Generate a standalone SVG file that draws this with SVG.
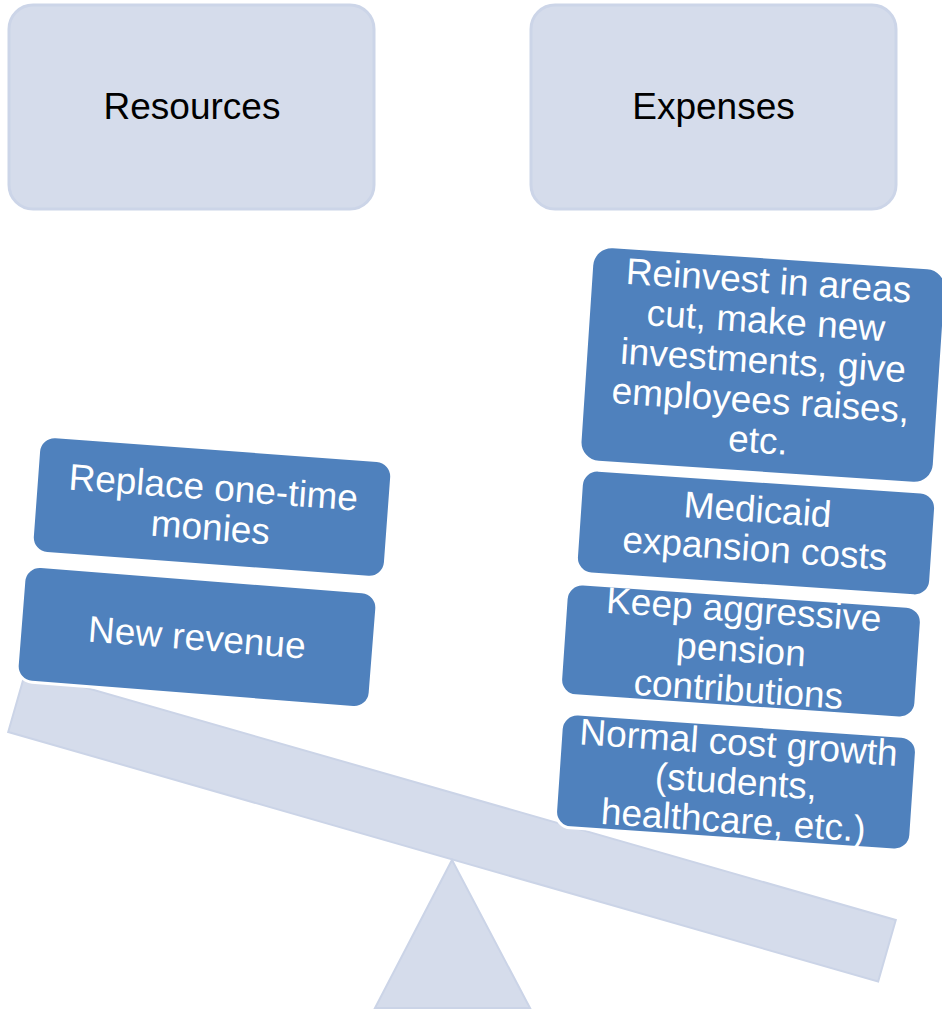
<svg xmlns="http://www.w3.org/2000/svg" width="942" height="1010" viewBox="0 0 942 1010">
<style>
.hdr{fill:#D5DCEB;stroke:#CCD5E8;stroke-width:3}
.hdr-t{font-family:"Liberation Sans",Arial,sans-serif;font-size:37px;fill:#000;text-anchor:middle}
.beam{fill:#D5DCEB;stroke:#CBD4E7;stroke-width:2}
.box{fill:#4F81BD;stroke:#FFFFFF;stroke-width:3}
.box-t{font-family:"Liberation Sans",Arial,sans-serif;font-size:37px;fill:#FFFFFF;text-anchor:middle}
</style>
<rect width="942" height="1010" fill="#FFFFFF"/>
<g id="resources">
<rect class="hdr" x="9" y="5" width="365" height="204" rx="24"/>
<text class="hdr-t" x="192" y="119">Resources</text>
</g>
<g id="expenses">
<rect class="hdr" x="531" y="5" width="365" height="204" rx="24"/>
<text class="hdr-t" x="713.5" y="119">Expenses</text>
</g>
<g id="scale">
<rect class="beam" x="-452.5" y="-32" width="905" height="64" transform="translate(452,826) rotate(16)"/>
<polygon class="beam" points="452,860 530,1008 375,1008"/>
</g>
<g id="replace" transform="translate(212,507) rotate(4.2)">
<rect class="box" x="-177" y="-58.5" width="354" height="117" rx="16"/>
<text class="box-t"><tspan x="0" y="-7">Replace one-time</tspan><tspan x="0" y="33">monies</tspan></text>
</g>
<g id="newrevenue" transform="translate(197,637) rotate(4.5)">
<rect class="box" x="-177" y="-58" width="354" height="116" rx="16"/>
<text class="box-t" x="0" y="13">New revenue</text>
</g>
<g id="reinvest" transform="translate(763,365) rotate(3.8)">
<rect class="box" x="-177.5" y="-108" width="355" height="216" rx="20"/>
<text class="box-t"><tspan x="0" y="-72">Reinvest in areas</tspan><tspan x="0" y="-32">cut, make new</tspan><tspan x="0" y="8">investments, give</tspan><tspan x="0" y="48">employees raises,</tspan><tspan x="0" y="88">etc.</tspan></text>
</g>
<g id="medicaid" transform="translate(756,533) rotate(3.9)">
<rect class="box" x="-177.5" y="-52" width="355" height="104" rx="16"/>
<text class="box-t"><tspan x="0" y="-11">Medicaid</tspan><tspan x="0" y="28">expansion costs</tspan></text>
</g>
<g id="pension" transform="translate(741,651) rotate(3.9)">
<rect class="box" x="-178" y="-56" width="356" height="112" rx="16"/>
<text class="box-t"><tspan x="0" y="-29">Keep aggressive</tspan><tspan x="0" y="11">pension</tspan><tspan x="0" y="51">contributions</tspan></text>
</g>
<g id="normal" transform="translate(736,782) rotate(3.9)">
<rect class="box" x="-178" y="-57" width="356" height="114" rx="16"/>
<text class="box-t"><tspan x="0" y="-27">Normal cost growth</tspan><tspan x="0" y="12">(students,</tspan><tspan x="0" y="51">healthcare, etc.)</tspan></text>
</g>
</svg>
